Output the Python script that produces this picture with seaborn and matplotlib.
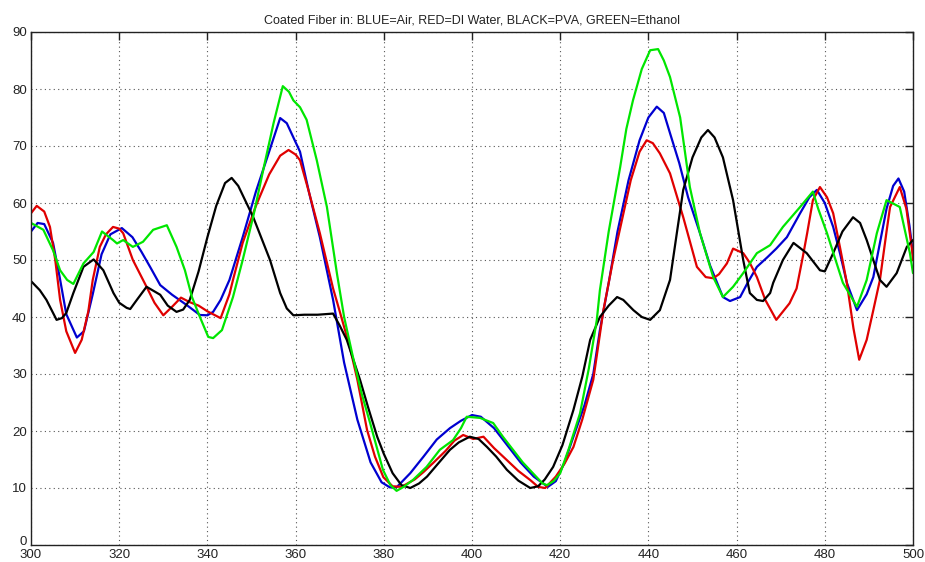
import matplotlib
matplotlib.use("Agg")
import matplotlib.pyplot as plt
import matplotlib.transforms as mtrans
import seaborn as sns
import pandas as pd

# ---- data ----
blue_x = [300, 301.5, 303, 305, 306.5, 308, 310.4, 312, 314, 316, 318, 320.6, 323, 325, 327, 329.3, 332, 335.3,
          338.3, 340, 341.3, 343, 345, 348, 351, 354, 356.5, 358, 361, 363, 365.5, 368.5, 371, 374, 377, 379.5,
          381.4, 383, 386, 389, 392, 395, 397.5, 400, 402, 405, 408, 411, 414, 417.2, 419, 421, 423, 425.5,
          427.5, 429, 431, 433, 435.5, 438, 440, 441.9, 443.5, 445, 447, 449, 451.7, 454, 456.9, 458.5, 460.8,
          462.5, 464.6, 467, 469, 471.4, 474.4, 476.5, 478.2, 480, 481.9, 483.5, 485, 487.3, 489.5, 491, 492.5,
          494, 495.5, 496.7, 498, 499.2, 500]
blue_y = [55.0, 56.5, 56.3, 53, 47, 40.5, 36.4, 37.5, 44, 51, 54.5, 55.6, 54, 51.5, 48.8, 45.6, 43.9, 42.1,
          40.35, 40.3, 40.9, 43, 46.5, 54, 62, 69, 74.9, 74, 69, 62, 54, 43, 32, 22, 14.5, 11,
          10.1, 10.2, 12.6, 15.5, 18.5, 20.5, 21.8, 22.8, 22.5, 20.5, 17.5, 14.5, 12, 10.2, 11.2, 14.5, 19, 24.5,
          30, 37.7, 46, 55, 64, 71, 75, 76.9, 75.8, 72, 67, 61, 54.7, 49, 43.5, 42.8, 43.5,
          46, 48.8, 50.5, 52, 54, 58.2, 61, 62.3, 60, 55.8, 51, 46, 41.2, 44, 47, 53,
          59, 63, 64.3, 62, 56, 51]

red_x = [300, 301.3, 303, 304.3, 305.5, 306.6, 308, 310, 311.5, 313, 314, 315.6, 317, 318.6, 320, 320.9, 323.1,
         326.2, 328, 330, 332, 334, 336, 338, 340, 343, 345, 345.8, 348, 351, 354, 356.5, 358.4, 360, 361, 363,
         365.5, 368.5, 370, 372.3, 374, 376.2, 378, 379.9, 382, 384, 387, 389, 391.2, 394, 396, 398, 400.3,
         402.6, 405, 407.9, 410.5, 413.2, 415, 416.6, 419, 421, 423, 425, 427.5, 429.8, 432, 434, 436, 438,
         439.6, 441, 442.6, 444.9, 447.9, 451, 453, 454.7, 456, 457.8, 459.2, 461.5, 463, 464.6, 466.5, 469,
         472, 473.6, 475, 476, 477.3, 478.9, 480.5, 481.9, 483.5, 485, 486.5, 487.8, 489.5, 491, 492.5, 494,
         494.8, 497, 498.5, 499.8, 500]
red_y = [58.2, 59.5, 58.5, 55.8, 50, 43, 37.5, 33.7, 36, 41, 46.5, 52.3, 54.5, 55.8, 55.5, 54.7, 50,
         45.3, 42.5, 40.3, 41.8, 43.4, 42.6, 42, 41, 39.8, 44, 46.5, 53, 59.5, 65, 68.3, 69.3, 68.5, 67.5, 62,
         54.7, 45, 41, 34.7, 29, 20.2, 15.5, 11.9, 10.3, 10.2, 11.5, 12.8, 14.4, 16.5, 18.3, 19.3, 18.6,
         19, 17, 14.9, 13, 11.4, 10.2, 10, 12, 14.3, 17.2, 22, 29, 41.2, 50, 57, 64, 69,
         71, 70.5, 68.7, 65.2, 57.5, 48.8, 47, 46.8, 47.5, 49.4, 52, 51.2, 49.5, 47, 43, 39.5,
         42.4, 45, 50.5, 54.7, 60.5, 62.8, 61, 58.2, 52, 46, 38, 32.5, 36, 41.2, 46.5, 55,
         59.3, 62.8, 59, 51.7, 50]

black_x = [300, 302, 303.5, 305.8, 307, 308, 309.6, 311.9, 314.2, 316.4, 318.7, 320, 321.7, 322.5, 324, 326.2,
           329.3, 331, 333, 334.5, 336, 338, 340, 342, 344, 345.5, 347, 350.4, 354.2, 356.5, 358, 359.5, 362,
           365, 368.5, 370, 371.6, 374.6, 376.5, 378.5, 380, 382, 384, 386, 388, 389.8, 392, 395, 397, 399.5,
           401.5, 403.4, 405.5, 407.9, 410.5, 413.2, 415, 416.5, 418.4, 420.5, 423, 425, 426.8, 429, 431,
           432.9, 434.3, 436.6, 438.5, 440.4, 442.6, 444.9, 446.5, 447.9, 450, 452, 453.5, 455, 456.9, 459.2,
           461.5, 463, 464.6, 466, 467.6, 468.3, 470.5, 472.9, 475.9, 478.9, 480, 481.9, 484, 486.4, 488,
           489.5, 491, 492.5, 494, 496.3, 498.6, 500]
black_y = [46.3, 44.7, 43, 39.5, 39.8, 40.7, 44.2, 48.8, 50.1, 48.2, 44.2, 42.5, 41.6, 41.4, 43, 45.3,
           43.9, 42, 40.9, 41.3, 43, 48, 54, 59.5, 63.5, 64.4, 63, 57.5, 50, 44.2, 41.5, 40.3, 40.4,
           40.4, 40.6, 38.5, 36, 29, 24, 19, 16, 12.6, 10.5, 10, 10.8, 12, 14, 16.7, 18, 19,
           18.6, 17.2, 15.5, 13.2, 11.3, 10, 10.3, 11.5, 13.7, 17.5, 23.7, 29.5, 36, 40, 42,
           43.5, 43, 41.2, 40, 39.5, 41.2, 46.5, 55, 62.3, 68, 71.5, 72.8, 71.5, 68, 60.5,
           50, 44.2, 43, 42.8, 44.2, 46, 50, 53, 51.2, 48.2, 48, 51.2, 55, 57.5, 56.5,
           53.5, 50, 46.5, 45.3, 47.7, 52.3, 53.5]

green_x = [300, 302.8, 305, 306.6, 308.2, 309.6, 311.9, 314.2, 316.1, 318.6, 319.5, 320.9, 323.1, 325.4, 327.7,
           330.8, 333, 334.9, 336.5, 338.3, 340.2, 341.3, 343.3, 345.8, 348, 350.5, 352.8, 355, 357.1, 358.5,
           359.5, 361, 362.5, 364.8, 367.1, 369.4, 371, 373, 375, 376.9, 379.8, 381.5, 382.9, 384.5, 386.6,
           389.7, 392.7, 395.7, 397.5, 398.8, 401.8, 404.8, 407, 409.3, 411.5, 413.8, 416, 417, 418.5, 420,
           422, 424.5, 426.5, 428.3, 429, 431, 433.6, 435, 436.5, 438.5, 440.4, 442.2, 443.5, 444.9, 447.2,
           449.4, 451.7, 454.7, 456.9, 459.2, 461.5, 464.6, 467.6, 470.5, 474.4, 477.3, 478.5, 480.5, 484.1,
           487.3, 489.5, 491.8, 494, 497, 499.3, 500]
green_y = [56.5, 55.3, 51.7, 48.2, 46.5, 45.8, 49.4, 51.4, 55, 53.5, 52.9, 53.5, 52.3, 53.2, 55.3,
           56.1, 52.3, 48.2, 43.5, 40, 36.5, 36.3, 37.7, 43.5, 50, 58, 66.3, 74, 80.5, 79.5,
           78, 76.8, 74.6, 67.5, 59.3, 47.5, 40, 33, 26.5, 21.4, 13.2, 10.5, 9.5, 10.2, 11.4,
           13.7, 16.7, 18.4, 20.5, 22.5, 22.3, 21.4, 19, 16.7, 14.5, 12.6, 10.8, 10.5, 11.2, 12.6,
           17, 23.1, 31, 39.5, 44.7, 55, 66.3, 73, 78, 83.5, 86.8, 87, 85, 82.1, 75,
           62.8, 54.7, 47, 43.5, 45.3, 47.7, 51.2, 52.6, 55.8, 59.3, 62, 59, 54.7, 46,
           41.8, 46.5, 54.7, 60.5, 59.3, 51.2, 47.7]

series_names = ["Air", "DI Water", "PVA", "Ethanol"]
title_text = "Coated Fiber in: BLUE=Air, RED=DI Water, BLACK=PVA, GREEN=Ethanol"
x_ticks = list(range(300, 501, 20))
y_ticks = list(range(0, 91, 10))

# ---- build long table ----
frames = []
for name, xs, ys in zip(series_names, [blue_x, red_x, black_x, green_x], [blue_y, red_y, black_y, green_y]):
    frames.append(pd.DataFrame({"x": xs, "y": ys, "series": name}))
df = pd.concat(frames, ignore_index=True)

sns.set_style("white")
plt.rcParams["font.family"] = ["Liberation Sans", "DejaVu Sans"]

fig = plt.figure(figsize=(9.25, 5.62), dpi=100)
ax = fig.add_axes([31 / 925, 17 / 562, (913 - 31) / 925, (545 - 32) / 562])

palette = {"Air": "#0000d0", "DI Water": "#e00000", "PVA": "#000000", "Ethanol": "#00e600"}
sns.lineplot(data=df, x="x", y="y", hue="series", palette=palette, sort=False, estimator=None,
             legend=False, linewidth=1.6, ax=ax)

ax.set_xlim(300, 500)
ax.set_ylim(0, 90)
ax.set_xticks(x_ticks)
ax.set_yticks(y_ticks)
ax.set_xlabel("")
ax.set_ylabel("")
ax.grid(True, linestyle=(0, (1, 3)), color="#555555", linewidth=0.8)
ax.set_axisbelow(True)
for sp in ax.spines.values():
    sp.set_color("#222222")
    sp.set_linewidth(1.0)
ax.tick_params(direction="in", length=6, width=1, top=True, right=True, labelsize=9.5,
               colors="#222222")
ax.tick_params(axis="x", pad=3)
ax.tick_params(axis="y", pad=3)
fig.canvas.draw()
for lbl in ax.get_yticklabels():
    if lbl.get_text() == "0":
        lbl.set_transform(lbl.get_transform() + mtrans.ScaledTranslation(0, 3 / 72, fig.dpi_scale_trans))
ax.set_title(title_text, fontsize=9, pad=6, color="#222222")

fig.savefig("out.png", dpi=100, facecolor="white")
